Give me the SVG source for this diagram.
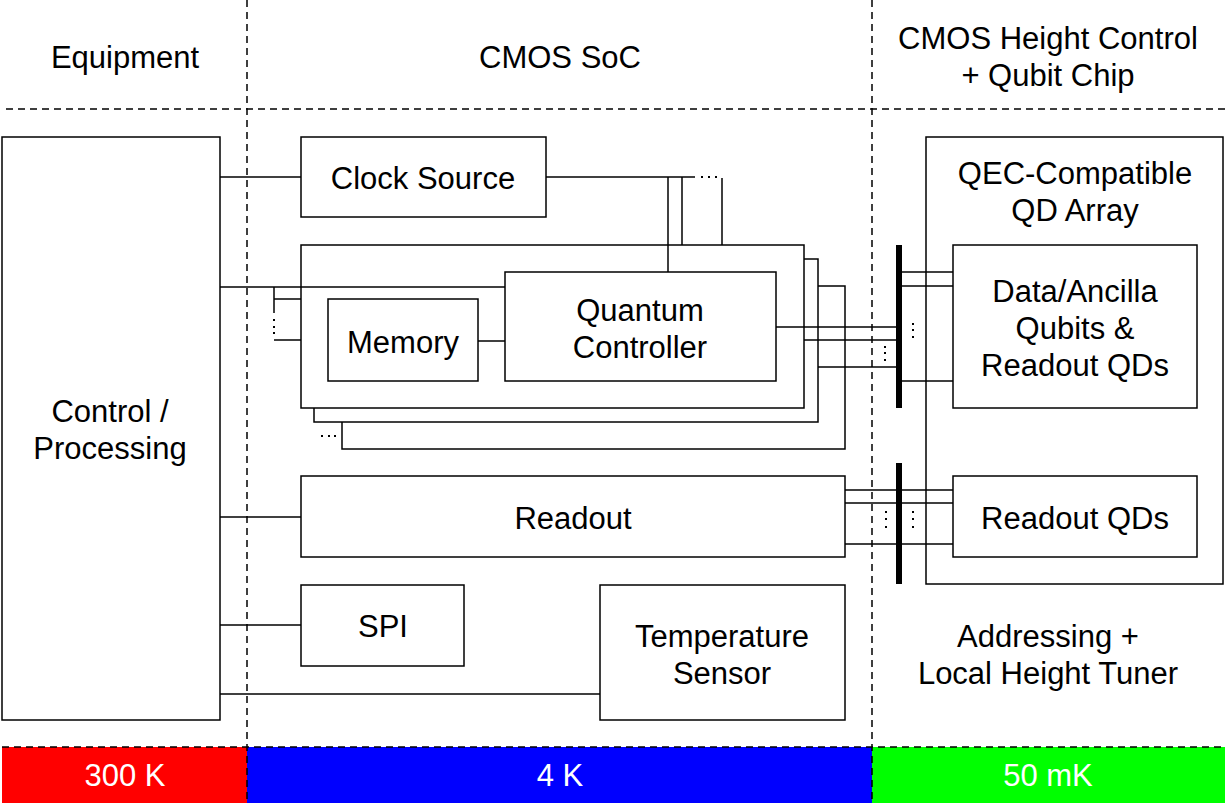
<svg xmlns="http://www.w3.org/2000/svg" width="1225" height="803" viewBox="0 0 1225 803">
  <style>
    .box { fill: #ffffff; stroke: #000000; stroke-width: 1.5; }
    .wire { stroke: #000000; stroke-width: 1.5; fill: none; }
    .dash { stroke: #000000; stroke-width: 1.5; stroke-dasharray: 7 5; fill: none; }
    .bus { fill: #000000; }
    .dot { fill: #000000; }
    text { font-family: "Liberation Sans", Arial, sans-serif; font-size: 31px; fill: #000000; text-anchor: middle; }
    .temp { fill: #ffffff; }
  </style>

  <rect width="1225" height="803" fill="#ffffff"/>

  <!-- temperature stages -->
  <g id="stages">
    <rect x="2" y="747" width="245" height="56" fill="#ff0000"/>
    <rect x="247" y="747" width="625" height="56" fill="#0000ff"/>
    <rect x="872" y="747" width="353" height="56" fill="#00ff00"/>
    <text class="temp" x="125" y="786">300 K</text>
    <text class="temp" x="560" y="786">4 K</text>
    <text class="temp" x="1048" y="786">50 mK</text>
  </g>

  <!-- region separators -->
  <g id="separators">
    <line class="dash" x1="6" y1="109" x2="1225" y2="109"/>
    <line class="dash" x1="2" y1="747" x2="1225" y2="747"/>
    <line class="dash" x1="247" y1="0" x2="247" y2="803"/>
    <line class="dash" x1="872" y1="0" x2="872" y2="803"/>
  </g>

  <!-- region headers -->
  <g id="headers">
    <text x="125" y="68">Equipment</text>
    <text x="560" y="68">CMOS SoC</text>
    <text x="1048" y="49">CMOS Height Control</text>
    <text x="1048" y="86">+ Qubit Chip</text>
  </g>

  <!-- nodes -->
  <g id="control-processing">
    <rect class="box" x="2" y="137" width="218" height="583"/>
    <text x="110" y="422">Control /</text>
    <text x="110" y="459">Processing</text>
  </g>

  <g id="clock-source">
    <rect class="box" x="301" y="137" width="245" height="80"/>
    <text x="423" y="189">Clock Source</text>
  </g>

  <g id="controller-stack">
    <rect class="box" x="342" y="286" width="503" height="163"/>
    <rect class="box" x="314" y="259" width="504" height="163"/>
    <rect class="box" x="301" y="245" width="503" height="163"/>
  </g>

  <g id="memory">
    <rect class="box" x="328" y="299" width="150" height="82"/>
    <text x="403" y="353">Memory</text>
  </g>

  <g id="quantum-controller">
    <rect class="box" x="505" y="272" width="271" height="109"/>
    <text x="640" y="321">Quantum</text>
    <text x="640" y="358">Controller</text>
  </g>

  <g id="readout">
    <rect class="box" x="301" y="476" width="544" height="81"/>
    <text x="573" y="529">Readout</text>
  </g>

  <g id="spi">
    <rect class="box" x="301" y="585" width="163" height="81"/>
    <text x="383" y="637">SPI</text>
  </g>

  <g id="temperature-sensor">
    <rect class="box" x="600" y="585" width="245" height="135"/>
    <text x="722" y="647">Temperature</text>
    <text x="722" y="684">Sensor</text>
  </g>

  <g id="qd-array">
    <rect class="box" x="926" y="137" width="297" height="447"/>
    <text x="1075" y="184">QEC-Compatible</text>
    <text x="1075" y="221">QD Array</text>
  </g>

  <g id="data-ancilla">
    <rect class="box" x="953" y="245" width="244" height="163"/>
    <text x="1075" y="302">Data/Ancilla</text>
    <text x="1075" y="339">Qubits &amp;</text>
    <text x="1075" y="376">Readout QDs</text>
  </g>

  <g id="readout-qds">
    <rect class="box" x="953" y="476" width="244" height="81"/>
    <text x="1075" y="529">Readout QDs</text>
  </g>

  <g id="addressing">
    <text x="1048" y="647">Addressing +</text>
    <text x="1048" y="684">Local Height Tuner</text>
  </g>

  <!-- connectors -->
  <g id="connectors">
    <!-- control bus to SoC blocks -->
    <line class="wire" x1="220" y1="177" x2="301" y2="177"/>
    <line class="wire" x1="220" y1="287" x2="505" y2="287"/>
    <polyline class="wire" points="274,287 274,313"/>
    <line class="wire" x1="274" y1="299" x2="301" y2="299"/>
    <line class="wire" x1="274" y1="340" x2="301" y2="340"/>
    <line class="wire" x1="220" y1="517" x2="301" y2="517"/>
    <line class="wire" x1="220" y1="625" x2="301" y2="625"/>
    <line class="wire" x1="220" y1="694" x2="600" y2="694"/>

    <!-- memory to controller -->
    <line class="wire" x1="478" y1="341" x2="505" y2="341"/>

    <!-- clock distribution -->
    <line class="wire" x1="546" y1="177" x2="695" y2="177"/>
    <line class="wire" x1="668" y1="177" x2="668" y2="272"/>
    <line class="wire" x1="682" y1="177" x2="682" y2="245"/>
    <line class="wire" x1="722" y1="178" x2="722" y2="245"/>

    <!-- controller outputs to gate bus -->
    <line class="wire" x1="776" y1="327" x2="896" y2="327"/>
    <line class="wire" x1="804" y1="340" x2="896" y2="340"/>
    <line class="wire" x1="818" y1="367" x2="896" y2="367"/>
    <line class="wire" x1="902" y1="272" x2="953" y2="272"/>
    <line class="wire" x1="902" y1="286" x2="953" y2="286"/>
    <line class="wire" x1="902" y1="381" x2="953" y2="381"/>

    <!-- readout lines -->
    <line class="wire" x1="845" y1="490" x2="953" y2="490"/>
    <line class="wire" x1="845" y1="503" x2="953" y2="503"/>
    <line class="wire" x1="845" y1="544" x2="953" y2="544"/>

    <!-- buses -->
    <rect class="bus" x="896" y="245" width="6" height="163"/>
    <rect class="bus" x="896" y="463" width="6" height="121"/>

    <!-- ellipsis marks -->
    <rect class="dot" x="701" y="176" width="2" height="2"/>
    <rect class="dot" x="708" y="176" width="2" height="2"/>
    <rect class="dot" x="715" y="176" width="2" height="2"/>

    <rect class="dot" x="273" y="319" width="2" height="2"/>
    <rect class="dot" x="273" y="326" width="2" height="2"/>
    <rect class="dot" x="273" y="332" width="2" height="2"/>

    <rect class="dot" x="321" y="435" width="2" height="2"/>
    <rect class="dot" x="328" y="435" width="2" height="2"/>
    <rect class="dot" x="334" y="435" width="2" height="2"/>

    <rect class="dot" x="884" y="346" width="2" height="2"/>
    <rect class="dot" x="884" y="352" width="2" height="2"/>
    <rect class="dot" x="884" y="359" width="2" height="2"/>

    <rect class="dot" x="912" y="323" width="2" height="2"/>
    <rect class="dot" x="912" y="329" width="2" height="2"/>
    <rect class="dot" x="912" y="336" width="2" height="2"/>

    <rect class="dot" x="885" y="511" width="2" height="2"/>
    <rect class="dot" x="885" y="518" width="2" height="2"/>
    <rect class="dot" x="885" y="526" width="2" height="2"/>

    <rect class="dot" x="912" y="511" width="2" height="2"/>
    <rect class="dot" x="912" y="518" width="2" height="2"/>
    <rect class="dot" x="912" y="526" width="2" height="2"/>
  </g>
</svg>
